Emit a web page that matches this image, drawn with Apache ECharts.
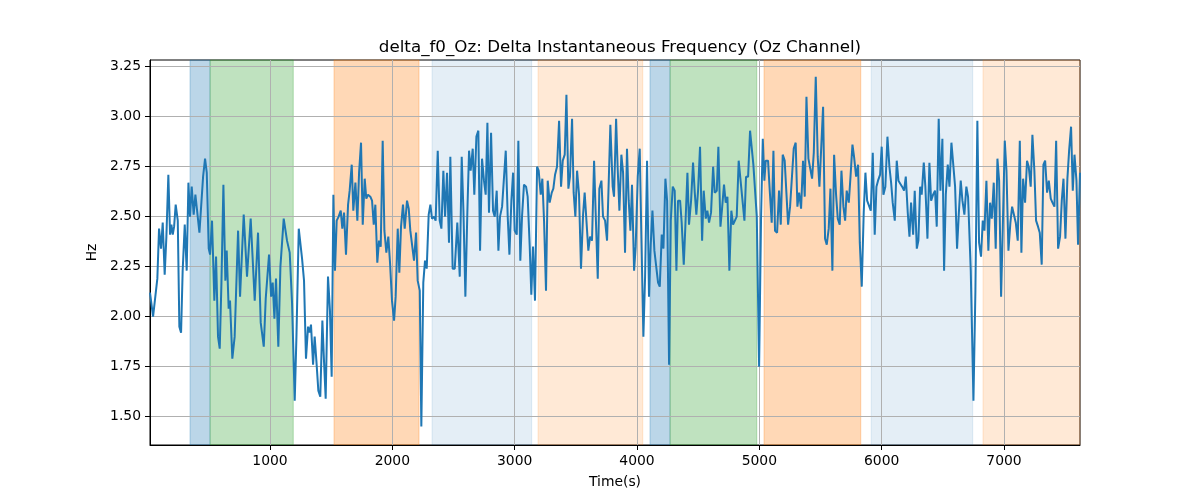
<!DOCTYPE html>
<html><head><meta charset="utf-8">
<script src="https://cdn.jsdelivr.net/npm/echarts@6/dist/echarts.min.js"></script>
<style>html,body{margin:0;padding:0;background:#fff}#c{width:1200px;height:500px}</style>
</head><body><div id="c"></div>
<script>
const times = [19,44,79,93,109,123,139,153,169,183,194,205,216,229,246,259,273,286,303,319,333,346,360,376,390,406,423,436,453,469,483,499,510,526,545,559,575,589,603,619,635,646,662,673,692,711,739,755,785,812,842,875,902,924,949,965,979,992,1009,1022,1036,1049,1068,1085,1112,1139,1161,1180,1202,1216,1235,1262,1278,
1294,1311,1322,1335,1352,1365,1379,1395,1411,1428,1442,1455,1474,1490,1504,1518,1531,1545,1561,1578,1591,1605,1621,1638,1651,1668,1681,1698,1714,1728,1744,1758,1774,1787,1801,1820,1834,1848,1861,1877,1891,1905,1921,1935,1951,1967,1981,1997,2014,2027,2044,2057,2071,2087,2101,2120,2134,2147,2161,2177,2194,2207,2224,2237,2253,2267,2281,2297,2311,2324,2341,2354,2371,2387,2401,2417,2431,2447,2463,2474,2493,2510,
2531,2551,2567,2581,2597,2613,2627,2640,2657,2670,2687,2703,2717,2733,2749,2763,2777,2790,2807,2823,2837,2853,2867,2880,2897,2927,2943,2957,2973,2987,3000,3017,3030,3046,3060,3076,3093,3106,3123,3136,3150,3166,3183,3196,3213,3226,3240,3256,3270,3286,3303,3316,3330,3346,3363,3379,3393,3409,3423,3439,3452,3469,3482,3496,3510,3526,3542,3559,3572,3586,3602,3616,3632,3649,3662,3679,3692,3709,3722,3739,3755,3782,
3801,3812,3829,3842,3856,3872,3886,3902,3918,3932,3946,3959,3976,3989,4006,4022,4036,4052,4066,4082,4098,4112,4126,4142,4156,4172,4186,4202,4216,4232,4246,4262,4276,4292,4308,4322,4335,4352,4365,4382,4395,4412,4425,4442,4458,4472,4485,4499,4515,4532,4545,4562,4575,4589,4605,4622,4635,4652,4665,4682,4695,4711,4725,4739,4755,4771,4785,4801,4815,4831,4845,4861,4878,4891,4908,4924,4951,4979,4998,5014,5028,5041,
5052,5071,5085,5101,5115,5128,5145,5161,5175,5191,5207,5221,5235,5251,5267,5281,5297,5311,5325,5341,5357,5371,5385,5401,5417,5431,5445,5461,5477,5491,5504,5521,5537,5551,5567,5581,5597,5611,5627,5641,5657,5671,5687,5701,5714,5731,5744,5761,5774,5791,5807,5821,5837,5853,5867,5881,5897,5911,5927,5943,5957,5970,5987,6000,6014,6030,6047,6063,6077,6090,6107,6123,6137,6150,6167,6183,6197,6213,6227,6240,6257,6270,6287,6300,
6314,6327,6344,6357,6374,6390,6404,6420,6436,6450,6466,6480,6496,6510,6524,6540,6554,6570,6584,6600,6616,6630,6646,6660,6676,6692,6706,6728,6750,6766,6782,6796,6812,6826,6840,6856,6872,6886,6900,6916,6932,6946,6960,6976,6990,7006,7020,7036,7052,7066,7082,7096,7112,7129,7142,7156,7172,7188,7202,7218,7232,7248,7262,7278,7292,7308,7322,7336,7352,7366,7382,7396,7412,7426,7442,7458,7472,7486,7502,7518,7532,7548,7562,7576,7592,7605,7621];
const values = [2.12,2.00,2.19,2.44,2.34,2.47,2.21,2.40,2.71,2.41,2.46,2.41,2.45,2.56,2.48,1.95,1.92,2.23,2.46,2.23,2.67,2.50,2.65,2.51,2.61,2.62,2.42,2.42,2.70,2.79,2.72,2.34,2.31,2.48,2.08,2.30,1.90,1.84,2.17,2.66,2.18,2.33,2.04,2.08,1.79,1.90,2.43,2.10,2.51,2.20,2.49,2.08,2.42,1.97,1.85,2.09,2.09,2.31,2.10,2.17,1.99,2.19,1.85,2.25,2.49,2.38,2.32,2.07,1.58,1.90,2.44,2.29,2.18,
1.79,1.95,1.92,1.96,1.76,1.90,1.78,1.63,1.60,1.98,1.77,1.59,2.20,2.03,1.70,2.61,2.23,2.48,2.50,2.53,2.44,2.52,2.31,2.56,2.63,2.76,2.53,2.67,2.48,2.72,2.87,2.46,2.69,2.59,2.61,2.60,2.58,2.46,2.56,2.27,2.38,2.35,2.88,2.43,2.32,2.40,2.27,2.08,1.98,2.10,2.44,2.22,2.45,2.56,2.44,2.58,2.54,2.43,2.42,2.28,2.42,2.18,2.13,1.45,2.17,2.28,2.24,2.51,2.56,2.49,2.50,2.48,2.83,2.48,2.44,2.73,2.50,2.72,2.37,2.80,2.24,2.24,
2.47,2.20,2.80,2.53,2.10,2.52,2.83,2.73,2.84,2.61,2.90,2.93,2.33,2.79,2.68,2.61,2.97,2.52,2.92,2.53,2.50,2.63,2.33,2.50,2.55,2.83,2.50,2.31,2.58,2.72,2.43,2.41,2.88,2.28,2.50,2.66,2.65,2.60,2.35,2.11,2.35,2.08,2.75,2.73,2.61,2.69,2.48,2.13,2.68,2.57,2.62,2.64,2.71,2.75,2.98,2.65,2.78,2.81,3.11,2.64,2.70,2.99,2.62,2.50,2.73,2.61,2.24,2.51,2.62,2.63,2.33,2.40,2.38,2.78,2.52,2.19,2.64,2.68,2.50,2.48,2.38,2.96,
2.65,2.60,2.99,2.74,2.53,2.81,2.72,2.32,2.84,2.58,2.43,2.66,2.23,2.35,2.70,2.84,2.39,1.90,2.20,2.78,2.10,2.36,2.53,2.33,2.34,2.17,2.15,2.41,2.34,2.69,2.58,1.76,2.48,2.65,2.63,2.23,2.58,2.58,2.47,2.26,2.45,2.72,2.46,2.58,2.77,2.62,2.51,2.63,2.85,2.38,2.63,2.49,2.53,2.47,2.52,2.75,2.62,2.63,2.85,2.45,2.54,2.66,2.57,2.60,2.23,2.53,2.46,2.46,2.50,2.78,2.69,2.68,2.48,2.70,2.70,2.93,2.76,2.50,1.75,2.50,2.89,2.68,
2.78,2.78,2.63,2.47,2.83,2.43,2.42,2.63,2.46,2.81,2.78,2.77,2.46,2.55,2.55,2.84,2.87,2.55,2.62,2.54,2.78,2.60,3.10,2.79,2.78,2.69,2.82,3.20,2.80,2.65,2.66,3.05,2.39,2.36,2.44,2.64,2.23,2.81,2.61,2.49,2.46,2.73,2.55,2.48,2.63,2.57,2.69,2.86,2.80,2.70,2.76,2.37,2.15,2.52,2.72,2.58,2.57,2.53,2.82,2.41,2.65,2.68,2.71,2.85,2.61,2.65,2.90,2.75,2.67,2.57,2.48,2.78,2.68,2.68,2.65,2.63,2.70,2.52,2.40,2.57,2.41,2.63,2.34,2.38,
2.65,2.61,2.77,2.65,2.39,2.77,2.58,2.61,2.63,2.45,2.99,2.63,2.89,2.23,2.61,2.76,2.65,2.87,2.88,2.65,2.34,2.51,2.68,2.58,2.51,2.65,2.60,2.23,1.58,2.13,2.98,2.37,2.30,2.48,2.43,2.68,2.33,2.57,2.49,2.67,2.34,2.79,2.68,2.10,2.45,2.88,2.73,2.33,2.47,2.55,2.55,2.47,2.38,2.88,2.32,2.69,2.57,2.78,2.75,2.65,2.91,2.73,2.48,2.45,2.42,2.26,2.76,2.78,2.62,2.68,2.59,2.57,2.55,2.88,2.34,2.40,2.58,2.69,2.39,2.69,2.83,2.95,2.63,2.81,2.68,2.36,2.72];

const xTicks = [1000, 2000, 3000, 4000, 5000, 6000, 7000];
const yTicks = [1.50, 1.75, 2.00, 2.25, 2.50, 2.75, 3.00, 3.25];
const bandStarts = [346, 510, 1523, 2324, 3191, 4106, 4270, 5038, 5914, 6828];
const bandEnds   = [510, 1190, 2218, 3139, 4047, 4270, 4979, 5829, 6744, 7621];
const bandKinds  = ['blue', 'green', 'orange', 'lightblue', 'lightorange', 'blue', 'green', 'orange', 'lightblue', 'lightorange'];

const bandStyle = {
  blue: 'rgba(31,119,180,0.3)',
  green: 'rgba(44,160,44,0.3)',
  orange: 'rgba(255,127,14,0.3)',
  lightblue: 'rgba(31,119,180,0.12)',
  lightorange: 'rgba(255,127,14,0.17)'
};

const font = 'DejaVu Sans';
const lineData = times.map((t, i) => [t, values[i]]);
const areaData = bandStarts.map((s, i) => [
  { xAxis: s, itemStyle: { color: bandStyle[bandKinds[i]], borderColor: bandStyle[bandKinds[i]], borderWidth: 1 } },
  { xAxis: bandEnds[i] }
]);

const chart = echarts.init(document.getElementById('c'), null, { renderer: 'canvas' });
chart.setOption({
  animation: false,
  backgroundColor: '#fff',
  title: {
    text: 'delta_f0_Oz: Delta Instantaneous Frequency (Oz Channel)',
    left: 615, top: 34, textAlign: 'center',
    textStyle: { fontFamily: font, fontSize: 16.7, fontWeight: 'normal', color: '#000' }
  },
  grid: { left: 150, right: 120, top: 60, bottom: 55, show: true, borderColor: '#000', borderWidth: 1, backgroundColor: 'transparent' },
  xAxis: {
    type: 'value', min: times[0], max: times[times.length - 1], z: 2,
    name: 'Time(s)', nameLocation: 'middle', nameGap: 30,
    nameTextStyle: { fontFamily: font, fontSize: 13.9, color: '#000' },
    axisLine: { show: true, onZero: false, lineStyle: { color: '#000', width: 1 } },
    axisTick: { show: true, length: 5, lineStyle: { color: '#000' }, customValues: xTicks },
    axisLabel: { fontFamily: font, fontSize: 13.9, color: '#000', margin: 9, customValues: xTicks, formatter: v => String(v) },
    splitLine: { show: true, lineStyle: { color: '#b0b0b0', width: 1 } }
  },
  yAxis: {
    type: 'value', min: 1.358, max: 3.2835, z: 2,
    name: 'Hz', nameLocation: 'middle', nameGap: 42, nameRotate: 90,
    nameTextStyle: { fontFamily: font, fontSize: 13.9, color: '#000' },
    axisLine: { show: true, onZero: false, lineStyle: { color: '#000', width: 1 } },
    axisTick: { show: true, length: 5, lineStyle: { color: '#000' }, customValues: yTicks },
    axisLabel: { fontFamily: font, fontSize: 13.9, color: '#000', margin: 9, customValues: yTicks, formatter: v => v.toFixed(2) },
    splitLine: { show: true, lineStyle: { color: '#b0b0b0', width: 1 } }
  },
  series: [
    { type: 'line', data: [], z: 1, silent: true, markArea: { silent: true, data: areaData } },
    { type: 'line', data: lineData, z: 3, showSymbol: false, symbol: 'none', smooth: false,
      lineStyle: { color: '#1f77b4', width: 2 }, itemStyle: { color: '#1f77b4' } }
  ]
});
</script></body></html>
